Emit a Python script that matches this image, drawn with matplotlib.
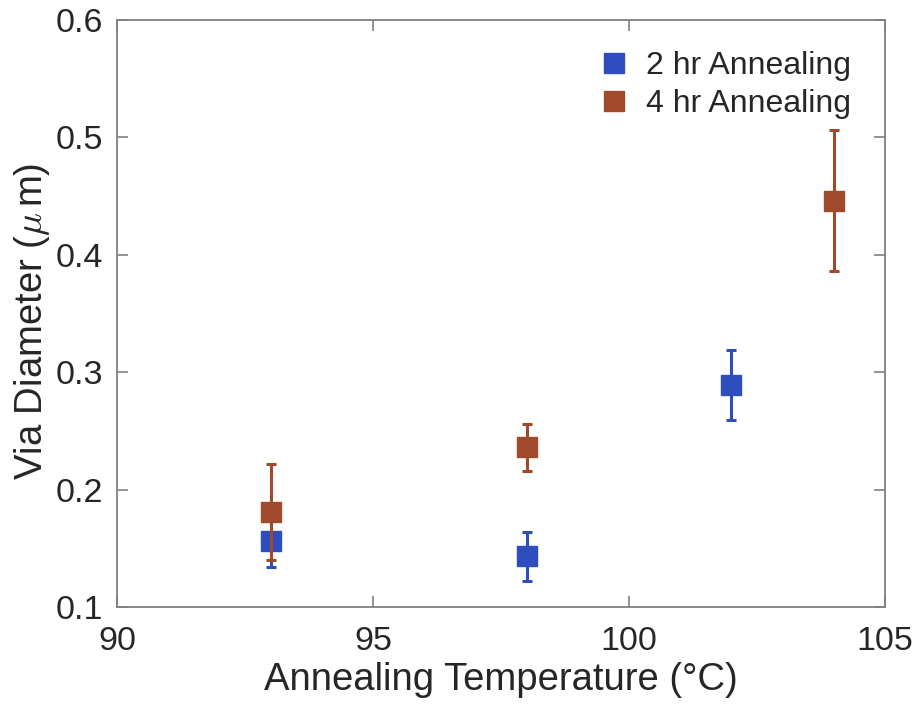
import matplotlib
matplotlib.use("Agg")
import matplotlib.pyplot as plt

plt.rcParams['font.family'] = ['Liberation Sans', 'DejaVu Sans']
plt.rcParams['mathtext.fontset'] = 'cm'

temp_2hr = [93, 98, 102]
diam_2hr = [0.156, 0.143, 0.289]
err_2hr = [0.022, 0.021, 0.030]

temp_4hr = [93, 98, 104]
diam_4hr = [0.181, 0.236, 0.446]
err_4hr = [0.041, 0.020, 0.060]

blue = '#2E4DBE'
brown = '#A0492B'
txt = '#262626'

fig = plt.figure(figsize=(9.17, 7.11), dpi=100)
ax = fig.add_axes([0.1276, 0.1463, 0.8375, 0.8256])

ax.errorbar(temp_2hr, diam_2hr, yerr=err_2hr, fmt='s', color=blue, ms=14,
            elinewidth=2.2, capsize=3.8, capthick=2.2, label='2 hr Annealing', zorder=3)
ax.errorbar(temp_4hr, diam_4hr, yerr=err_4hr, fmt='s', color=brown, ms=14,
            elinewidth=2.2, capsize=3.8, capthick=2.2, label='4 hr Annealing', zorder=4)

ax.set_xlim(90, 105)
ax.set_ylim(0.1, 0.6)
ax.set_xticks([90, 95, 100, 105])
ax.set_yticks([0.1, 0.2, 0.3, 0.4, 0.5, 0.6])
ax.set_yticklabels(['0.1', '0.2', '0.3', '0.4', '0.5', '0.6'])
ax.tick_params(direction='in', top=True, right=True, length=8, width=1.2,
               color='#808080', labelsize=24.5, labelcolor=txt)
ax.tick_params(axis='y', pad=10)
ax.tick_params(axis='x', pad=14)
for s in ax.spines.values():
    s.set_color('#808080')
    s.set_linewidth(1.3)

ax.set_xlabel('Annealing Temperature (\u00b0C)', fontsize=27.5, color=txt, labelpad=3)
ax.set_ylabel('Via Diameter ($\\mu\\,$m)', fontsize=27.5, color=txt)
ax.yaxis.set_label_coords(-0.085, 0.487)

h, l = ax.get_legend_handles_labels()
h = [hh[0] for hh in h]
leg = ax.legend(h, l, loc='upper right', frameon=False, fontsize=23,
                handlelength=0.8, handletextpad=0.6, markerscale=1.0,
                bbox_to_anchor=(0.985, 0.985), labelspacing=0.25, borderpad=0.2)
for t in leg.get_texts():
    t.set_color(txt)

fig.savefig('out.png', dpi=100)
